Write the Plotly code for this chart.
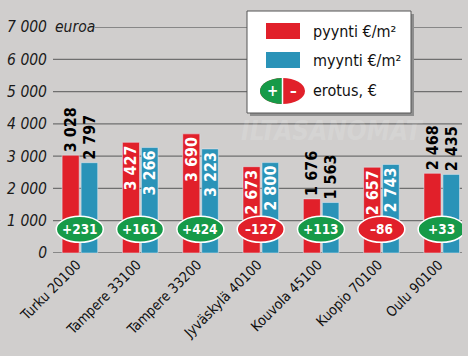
import math
import plotly.graph_objects as go

# ---- data ----
categories = ["Turku 20100", "Tampere 33100", "Tampere 33200", "Jyväskylä 40100",
              "Kouvola 45100", "Kuopio 70100", "Oulu 90100"]
pyynti = [3028, 3427, 3690, 2673, 1676, 2657, 2468]
myynti = [2797, 3266, 3223, 2800, 1563, 2743, 2435]
erotus = [231, 161, 424, -127, 113, -86, 33]
label_pos = ["outside", "inside", "inside", "inside", "outside", "inside", "outside"]
y_ticks = [0, 1000, 2000, 3000, 4000, 5000, 6000, 7000]
y_ticktext = ["0", "1 000", "2 000", "3 000", "4 000", "5 000", "6 000", "7 000"]

# ---- style ----
W, H = 468, 356
L, R, T, B = 53, 462, 27, 253
BG = "#d0cecd"
RED = "#e1202a"
BLUE = "#2a93b8"
GREEN = "#169a48"
GRID = "#6f6f6f"
FONT = "DejaVu Sans Condensed, Liberation Sans Narrow, sans-serif"


def fmt(v):
    return f"{v:,}".replace(",", " ")


def px(x):
    return (x - L) / (R - L)


def py(y):
    return (B - y) / (B - T)


fig = go.Figure()
for vals, col, off, wd, nm in [(pyynti, RED, -0.293, 0.283, "pyynti €/m²"),
                               (myynti, BLUE, 0.022, 0.275, "myynti €/m²")]:
    fig.add_trace(go.Bar(
        x=categories, y=vals, name=nm, marker_color=col,
        offset=off, width=wd, hoverinfo="skip",
        text=[fmt(v) for v in vals], textposition=label_pos, textangle=-90,
        insidetextanchor="end", constraintext="none", cliponaxis=False,
        textfont=dict(family=FONT, size=16, weight="bold"),
        insidetextfont=dict(color="white"), outsidetextfont=dict(color="black"),
    ))

shapes = []
for v in y_ticks:
    x0 = px(95) if v == 7000 else 0
    shapes.append(dict(type="line", xref="paper", yref="y", x0=x0, x1=1, y0=v, y1=v,
                       line=dict(color=GRID, width=1.3), layer="below"))

annotations = []
for i, d in enumerate(erotus):
    col = GREEN if d >= 0 else RED
    shapes.append(dict(type="circle", xref="x", yref="y", x0=i - 0.39, x1=i + 0.39,
                       y0=331, y1=1136, fillcolor=col, line=dict(color="white", width=1.5),
                       layer="above"))
    txt = f"+{d}" if d >= 0 else f"\u2013{abs(d)}"
    annotations.append(dict(x=i, y=733, xref="x", yref="y", text=txt, showarrow=False,
                            font=dict(family=FONT, size=13.5, color="white", weight="bold"),
                            xanchor="center", yanchor="middle"))

# legend box
shapes.append(dict(type="rect", xref="paper", yref="paper", x0=px(250), x1=px(414),
                   y0=py(116), y1=py(14), fillcolor="#8e8e8e", line=dict(width=0), layer="above"))
shapes.append(dict(type="rect", xref="paper", yref="paper", x0=px(247), x1=px(411),
                   y0=py(113), y1=py(11), fillcolor="white", line=dict(color="#555", width=1),
                   layer="above"))
shapes.append(dict(type="rect", xref="paper", yref="paper", x0=px(266), x1=px(300),
                   y0=py(39), y1=py(23), fillcolor=RED, line=dict(width=0), layer="above"))
shapes.append(dict(type="rect", xref="paper", yref="paper", x0=px(266), x1=px(300),
                   y0=py(68), y1=py(52), fillcolor=BLUE, line=dict(width=0), layer="above"))
cx, cy, rx, ry = 282.5, 91, 22.5, 13
shapes.append(dict(type="circle", xref="paper", yref="paper", x0=px(cx - rx), x1=px(cx + rx),
                   y0=py(cy + ry), y1=py(cy - ry), fillcolor=RED, line=dict(width=0), layer="above"))
pts = []
for k in range(41):
    a = math.pi / 2 + math.pi * k / 40
    pts.append((px(cx + rx * math.cos(a)), py(cy - ry * math.sin(a))))
path = "M " + " L ".join(f"{x:.5f},{y:.5f}" for x, y in pts) + " Z"
shapes.append(dict(type="path", xref="paper", yref="paper", path=path, fillcolor=GREEN,
                   line=dict(width=0), layer="above"))
shapes.append(dict(type="line", xref="paper", yref="paper", x0=px(cx), x1=px(cx),
                   y0=py(cy + ry), y1=py(cy - ry), line=dict(color="white", width=1.5), layer="above"))
annotations.append(dict(x=px(272.5), y=py(90.5), xref="paper", yref="paper", text="+",
                        showarrow=False, xanchor="center", yanchor="middle",
                        font=dict(family=FONT, size=15, color="white", weight="bold")))
annotations.append(dict(x=px(293), y=py(90.5), xref="paper", yref="paper", text="\u2013",
                        showarrow=False, xanchor="center", yanchor="middle",
                        font=dict(family=FONT, size=15, color="white", weight="bold")))
for txt, yy in [("pyynti €/m²", 31), ("myynti €/m²", 60), ("erotus, €", 90)]:
    annotations.append(dict(x=px(311), y=py(yy), xref="paper", yref="paper", text=txt,
                            showarrow=False, xanchor="left", yanchor="middle",
                            font=dict(family=FONT, size=16, color="#111")))

annotations.append(dict(x=0, y=7000, xref="paper", yref="y", text="euroa", showarrow=False,
                        xanchor="left", yanchor="middle",
                        font=dict(family=FONT, size=15.5, color="#1a1a1a", style="italic")))
annotations.append(dict(x=px(332), y=py(131), xref="paper", yref="paper", text="ILTASANOMAT",
                        showarrow=False, xanchor="center", yanchor="middle",
                        font=dict(family=FONT, size=26, color="rgba(255,255,255,0.14)",
                                  weight="bold", style="italic")))

fig.update_layout(
    width=W, height=H,
    margin=dict(l=L, r=W - R, t=T, b=H - B),
    paper_bgcolor=BG, plot_bgcolor=BG,
    barmode="overlay", showlegend=False, hovermode=False,
    shapes=shapes, annotations=annotations,
    xaxis=dict(type="category", range=[-0.444, 6.338], showgrid=False, zeroline=False,
               showline=False, ticks="", tickangle=-45, ticklabelshift=-3,
               tickfont=dict(family=FONT, size=14, color="#111")),
    yaxis=dict(range=[0, 7000], tickvals=y_ticks, ticktext=y_ticktext, showgrid=False,
               zeroline=False, showline=False, ticks="", ticklabelstandoff=5,
               tickfont=dict(family=FONT, size=15.5, color="#1a1a1a", style="italic")),
)

fig.write_html("out.html", config={"displayModeBar": False, "staticPlot": True},
               post_script="document.body.style.margin='0';document.body.style.overflow='hidden';")
